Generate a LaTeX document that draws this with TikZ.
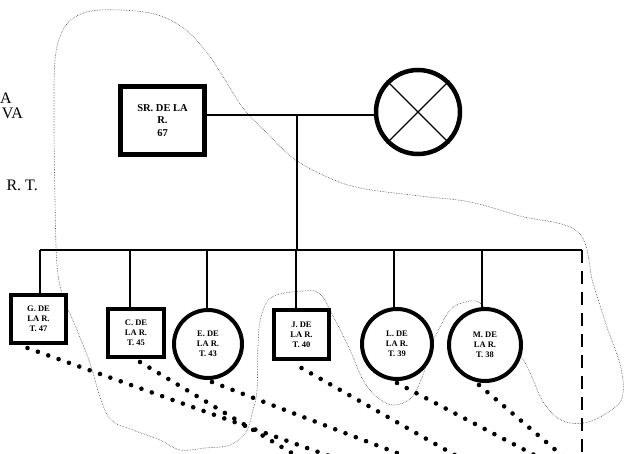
\documentclass[tikz,border=0pt]{standalone}
\usepackage{fontspec}
\setmainfont{Liberation Serif}
\begin{document}
\begin{tikzpicture}[x=1pt,y=-1pt,
  malebox/.style={draw,line width=4pt,fill=white,inner sep=0pt,align=center,
    font=\bfseries\fontsize{8.5}{10}\selectfont},
  femalebox/.style={draw,circle,line width=4pt,fill=white,inner sep=0pt,align=center,
    font=\bfseries\fontsize{8.5}{10}\selectfont},
  link/.style={line width=1.3pt},
  bond/.style={line width=4.6pt,line cap=round,dash pattern=on 0pt off 11pt},
  outline/.style={line width=0.6pt,densely dotted,black!70},
  lefttext/.style={inner sep=0pt,font=\fontsize{16}{18}\selectfont}
]
\useasboundingbox (0,0) rectangle (626,454);

% hand-drawn dotted outline
\draw[outline] plot[smooth cycle,tension=0.6] coordinates {
 (100,10) (150,13) (182,27) (205,50) (222,75) (243,108) (267,133) (293,158)
 (325,176) (360,188) (420,196) (470,202) (520,216) (578,232) (593,283)
 (607,327) (621,368) (622,398) (607,413) (588,422) (570,423) (555,416)
 (542,400) (532,377) (522,358) (500,330) (480,303) (462,303) (450,310)
 (440,327) (430,348) (423,375) (411,398) (393,405) (377,397) (363,380)
 (350,350) (334,318) (320,294) (303,291) (272,297) (261,317) (258,345)
 (257,390) (253,410) (246,432) (230,445) (205,448) (180,450) (160,440)
 (133,430) (111,420) (100,397) (90,363) (74,323) (63,297) (57,265)
 (55,200) (54,120) (55,60) (62,32) (75,17)};

% parents
\node[malebox,minimum width=84pt,minimum height=68pt,font=\bfseries\fontsize{10.5}{12.5}\selectfont,line width=4.5pt]
  (sr) at (162.5,120.5) {SR. DE LA\\R.\\67};
\node[femalebox,minimum size=84pt,line width=4.5pt] (wife) at (418,112) {};
\draw[line width=1.3pt] (wife.135) -- (wife.-45) (wife.45) -- (wife.-135);

% marriage and sibship lines
\coordinate (mid) at (297,115);
\coordinate (sibL) at (40,250);
\coordinate (sibM) at (297,250);
\coordinate (sibR) at (582,250);
\coordinate (dashend) at (582,456);
\draw[link] (sr.east |- mid) -- (wife.west |- mid);
\draw[link] (mid) -- (sibM);
\draw[link] (sibL) -- (sibR);
\draw[line width=2.8pt,dash pattern=on 13pt off 8pt] (sibR) -- (dashend);

% children
\node[malebox,minimum width=55pt,minimum height=48pt] (g) at (38.5,319) {G. DE\\LA R.\\T. 47};
\node[malebox,minimum width=56pt,minimum height=48pt] (c) at (136,333) {C. DE\\LA R.\\T. 45};
\node[femalebox,minimum size=68pt] (e) at (208,344) {E. DE\\LA R.\\T. 43};
\node[malebox,minimum width=55pt,minimum height=49pt] (j) at (301.5,334.5) {J. DE\\LA R.\\T. 40};
\node[femalebox,minimum size=70pt] (l) at (397,344) {L. DE\\LA R.\\T. 39};
\node[femalebox,minimum size=72pt] (m) at (485,345) {M. DE\\LA R.\\T. 38};

\draw[link] (sibL) -- (g.north -| sibL);
\draw[link] (c.north -| 130,250) -- (130,250);
\draw[link] (e.north -| 207,250) -- (207,250);
\draw[link] (j.north -| 296,250) -- (296,250);
\draw[link] (l.north -| 394,250) -- (394,250);
\draw[link] (m.north -| 482,250) -- (482,250);

% dotted bonds
\coordinate (gend) at (335,458);
\coordinate (cend) at (300,458);
\coordinate (eend) at (410,458);
\coordinate (jend) at (460,458);
\coordinate (lend) at (540,458);
\coordinate (mend) at (565,458);
\draw[bond] ([xshift=-11pt,yshift=-3pt]g.south) -- (gend);
\draw[bond] ([xshift=4pt,yshift=-3pt]c.south) -- (cend);
\draw[bond] ([xshift=4pt,yshift=-2pt]e.south) -- (eend);
\draw[bond] ([yshift=-7pt]j.south) -- (jend);
\draw[bond] ([yshift=-2pt]l.south) -- (lend);
\draw[bond] ([xshift=-6pt,yshift=-2pt]m.south) -- (mend);

% cropped text at the left edge
\node[lefttext,anchor=west] (t1) at (0,98) {A};
\node[lefttext,anchor=east] (t2) at (23,113) {VA};
\node[lefttext,anchor=east] (t3) at (38,185) {R. T.};
\end{tikzpicture}
\end{document}
